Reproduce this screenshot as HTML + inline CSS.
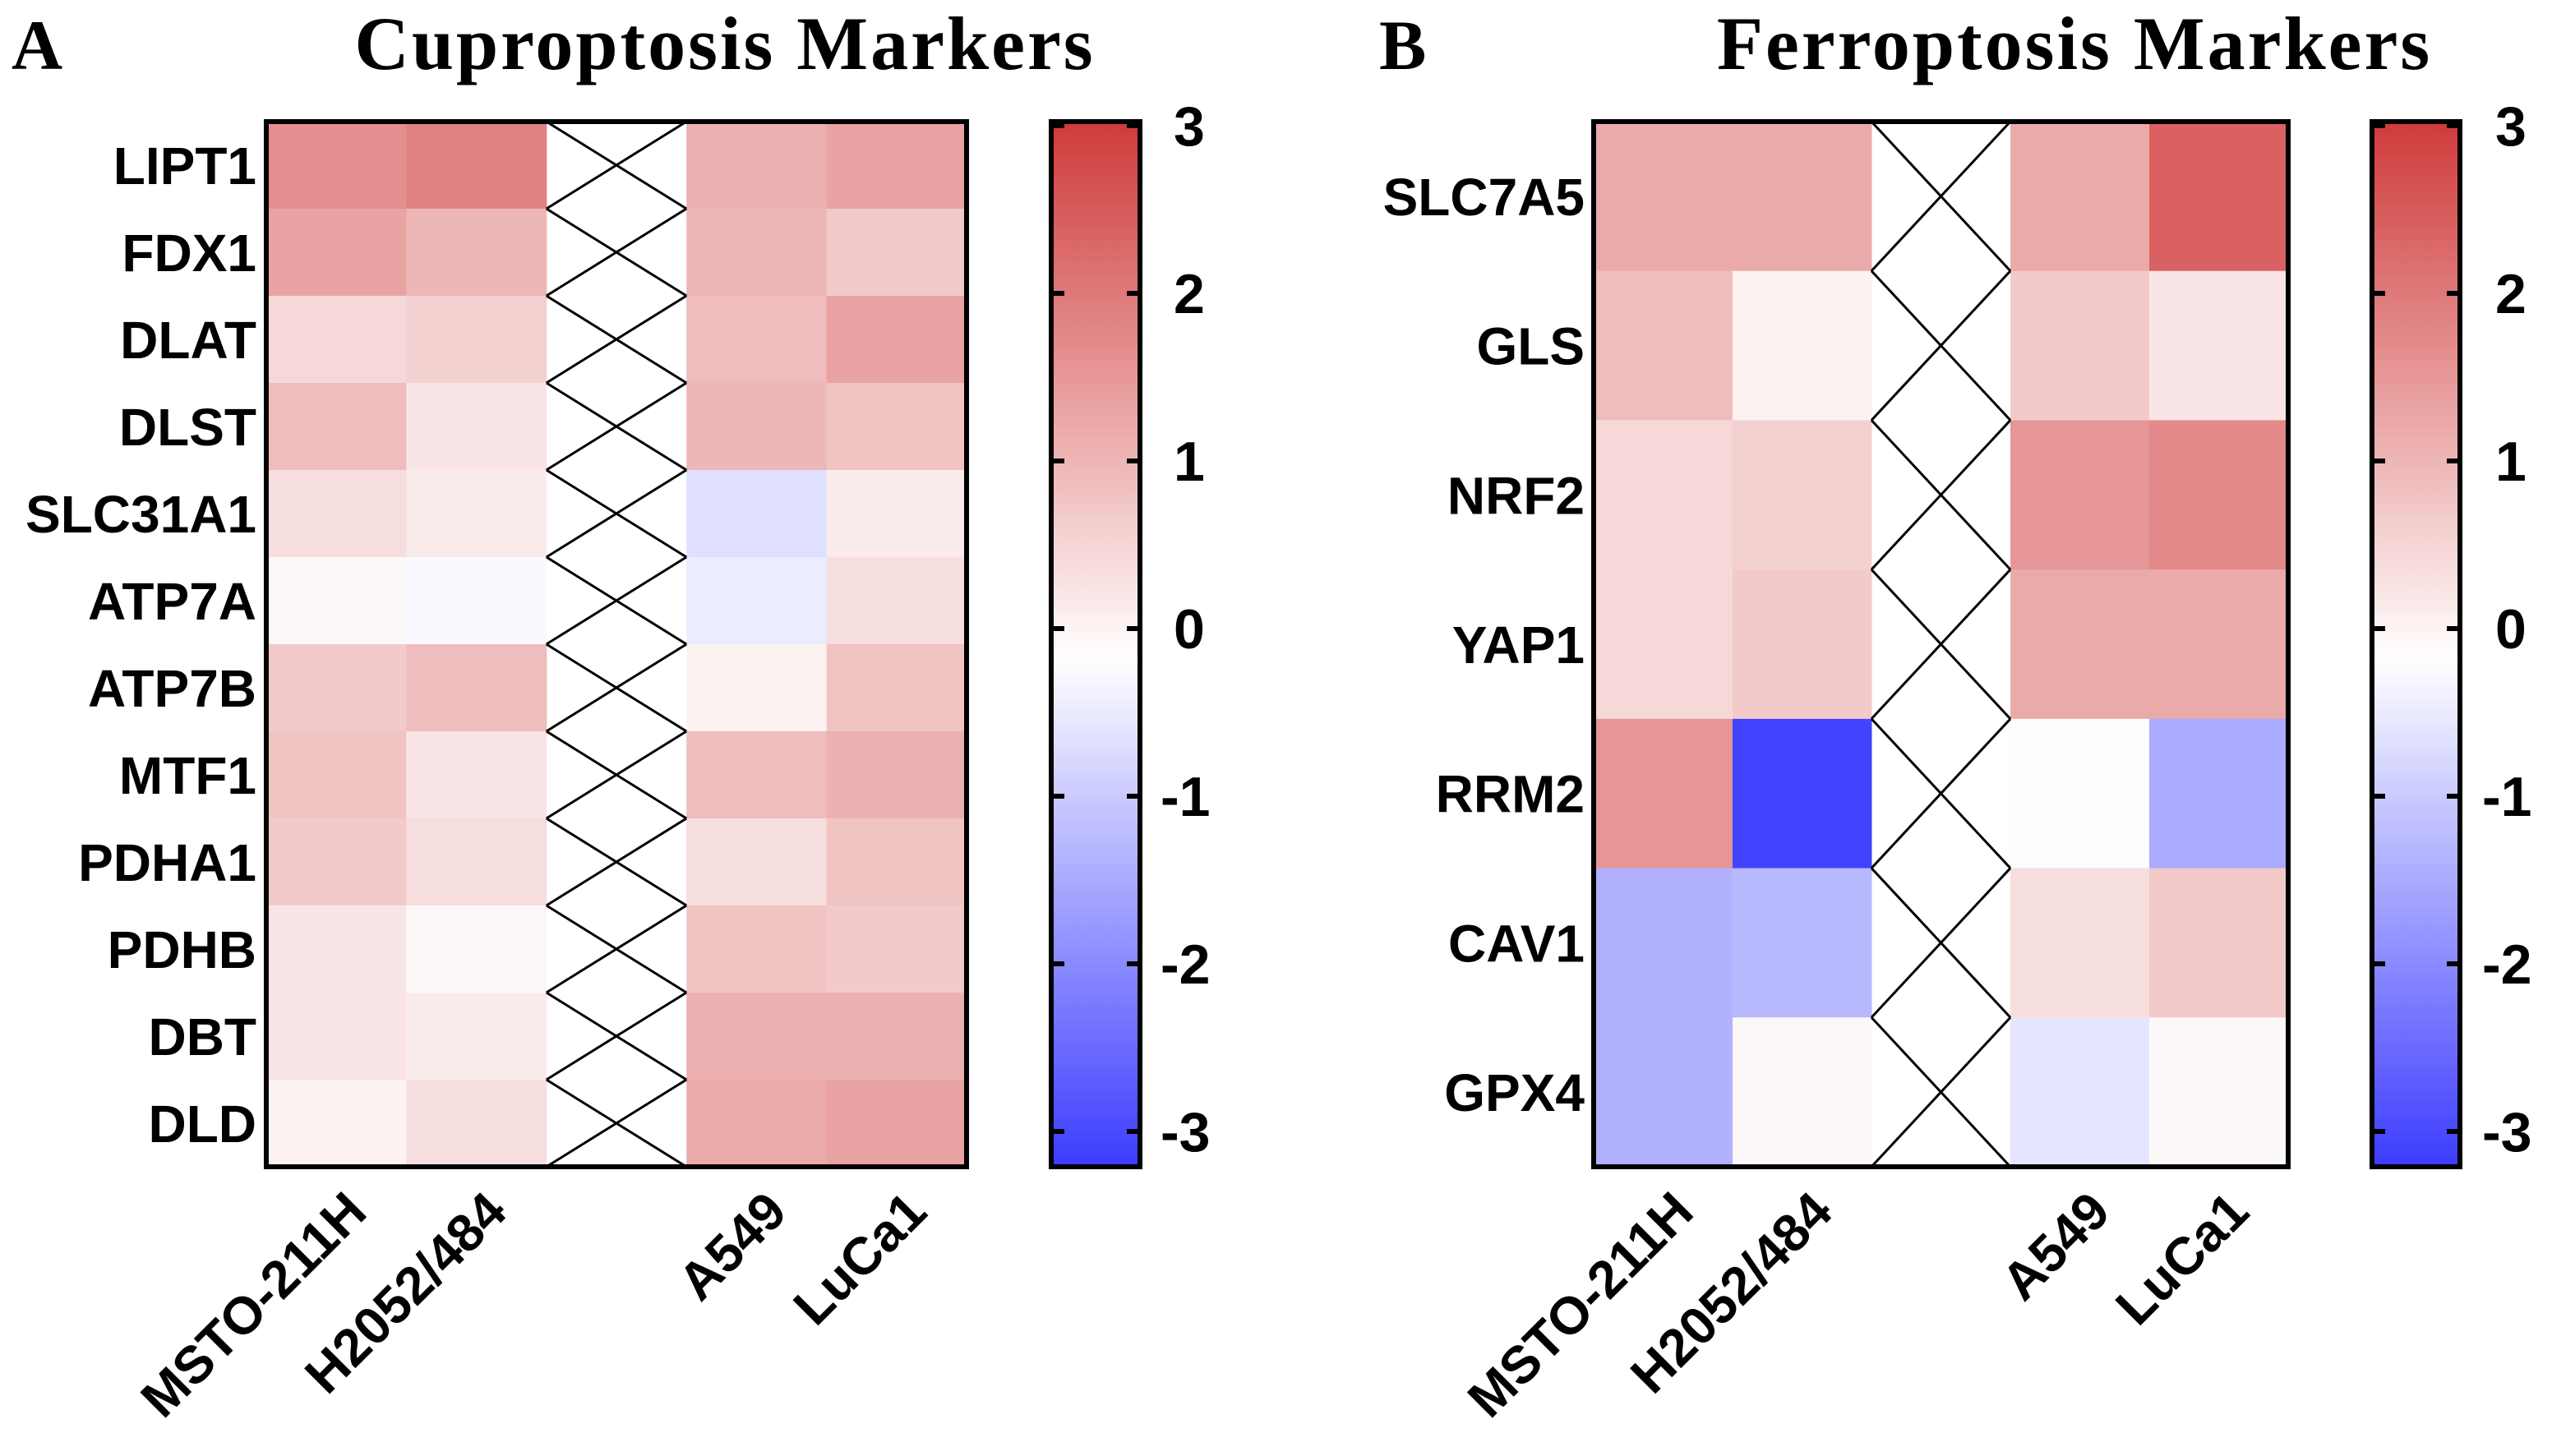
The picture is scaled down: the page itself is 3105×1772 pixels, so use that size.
<!DOCTYPE html>
<html><head><meta charset="utf-8"><style>
html,body{margin:0;padding:0;background:#fff;}
svg{display:block;}
</style></head><body>
<svg id="fig" xmlns="http://www.w3.org/2000/svg" width="3105" height="1772" viewBox="0 0 3105 1772">
<defs>
<linearGradient id="cbar" x1="0" y1="1" x2="0" y2="0">
<stop offset="0" stop-color="#3c3cff"/>
<stop offset="0.485" stop-color="#ffffff"/>
<stop offset="1" stop-color="#d03a3a"/>
</linearGradient>
</defs>
<g id="panelA"></g>
<g id="panelB"></g>
</svg>
<script>
const cellLines = ["MSTO-211H","H2052/484","","A549","LuCa1"];
const cuproGenes = ["LIPT1","FDX1","DLAT","DLST","SLC31A1","ATP7A","ATP7B","MTF1","PDHA1","PDHB","DBT","DLD"];
const cuproMSTO  = [1.7,1.4,0.6,1.0,0.5,0.1,0.8,0.9,0.8,0.4,0.4,0.2];
const cuproH2052 = [1.9,1.1,0.7,0.4,0.3,-0.1,1.0,0.4,0.5,0.1,0.3,0.5];
const cuproA549  = [1.2,1.1,1.0,1.1,-0.5,-0.3,0.2,1.0,0.5,0.9,1.2,1.3];
const cuproLuCa1 = [1.4,0.8,1.4,0.9,0.3,0.5,0.9,1.2,0.9,0.8,1.2,1.4];
const ferroGenes = ["SLC7A5","GLS","NRF2","YAP1","RRM2","CAV1","GPX4"];
const ferroMSTO  = [1.3,1.0,0.6,0.6,1.6,-1.2,-1.2];
const ferroH2052 = [1.3,0.2,0.7,0.8,-2.9,-1.1,0.1];
const ferroA549  = [1.3,0.8,1.6,1.3,0.05,0.5,-0.4];
const ferroLuCa1 = [2.4,0.4,1.8,1.3,-1.3,0.8,0.1];
const scaleTicks = [3,2,1,0,-1,-2,-3];

const NS="http://www.w3.org/2000/svg";
function mk(parent,tag,attrs){const e=document.createElementNS(NS,tag);for(const k in attrs)e.setAttribute(k,attrs[k]);parent.appendChild(e);return e;}
function color(v){
  v=Math.max(-3,Math.min(3,v));
  const t=Math.abs(v)/3;
  const end = v>=0?[208,58,58]:[60,60,255];
  const c=end.map(x=>Math.round(255+(x-255)*t));
  return `rgb(${c[0]},${c[1]},${c[2]})`;
}
function panel(g,cfg){
  const {x0,x1,y0,y1,genes,series,title,titleX,letter,letterX,labelRight,cbX0,cbX1,tickLabelX,colEndDx}=cfg;
  const nR=genes.length, nC=5;
  const cw=(x1-x0)/nC, rh=(y1-y0)/nR;
  const yPos=i=>y0+i*rh, xPos=j=>x0+j*cw;
  let t=mk(g,'text',{x:letterX,y:84,'font-family':'"Liberation Serif",serif','font-weight':'bold','font-size':86,fill:'#000'});
  t.textContent=letter;
  
  
  t=mk(g,'text',{x:titleX,y:84,'font-family':'"Liberation Serif",serif','font-weight':'bold','font-size':92,'letter-spacing':3,fill:'#000','text-anchor':'middle'});
  t.textContent=title;
  
  
  const colMap=[0,1,3,4];
  series.forEach((vals,si)=>{
    vals.forEach((v,i)=>{
      const r=mk(g,'rect',{x:xPos(colMap[si]),y:yPos(i),width:cw+0.5,height:rh+0.5,fill:color(v)});
      
      
    });
  });
  genes.forEach((gn,i)=>{
    const a=xPos(2), b=xPos(3), c=yPos(i), d=yPos(i+1);
    const p=mk(g,'path',{d:`M${a},${c}L${b},${d}M${b},${c}L${a},${d}`,stroke:'#000','stroke-width':3,fill:'none'});
    
    
    const l=mk(g,'text',{x:labelRight,y:yPos(i)+rh/2+23,'font-family':'"Liberation Sans",sans-serif','font-weight':'bold','font-size':64,'text-anchor':'end',fill:'#000'});
    l.textContent=gn;
    
    
  });
  const fr=mk(g,'rect',{x:x0,y:y0,width:x1-x0,height:y1-y0,fill:'none',stroke:'#000','stroke-width':6});
  
  
  cellLines.forEach((cl,j)=>{
    if(!cl)return;
    const cx=xPos(j)+cw/2+colEndDx, cy=1478;
    const l=mk(g,'text',{x:cx,y:cy,'font-family':'"Liberation Sans",sans-serif','font-weight':'bold','font-size':64,'text-anchor':'end',fill:'#000',transform:`rotate(-45 ${cx} ${cy})`});
    l.textContent=cl;
    
    
  });
  const cb=mk(g,'rect',{x:cbX0,y:y0,width:cbX1-cbX0,height:y1-y0,fill:'url(#cbar)',stroke:'#000','stroke-width':6});
  
  
  const cy0=765, unit=204;
  scaleTicks.forEach(v=>{
    const y=cy0-v*unit;
    const tk=mk(g,'path',{d:`M${cbX0},${y}H${cbX0+16}M${cbX1-16},${y}H${cbX1}`,stroke:'#000','stroke-width':6});
    
    
    const tl=mk(g,'text',{x:tickLabelX+(v<0?-8:8),y:y+24,'font-family':'"Liberation Sans",sans-serif','font-weight':'bold','font-size':68,fill:'#000'});
    tl.textContent=v<0?'-'+Math.abs(v):String(v);
    
    
  });
}
panel(document.getElementById('panelA'),{x0:324,x1:1176,y0:148,y1:1420,genes:cuproGenes,
  series:[cuproMSTO,cuproH2052,cuproA549,cuproLuCa1],title:'Cuproptosis Markers',titleX:882,letter:'A',letterX:14,
  labelRight:312,cbX0:1279,cbX1:1387,tickLabelX:1420,colEndDx:40});
panel(document.getElementById('panelB'),{x0:1939,x1:2784,y0:148,y1:1420,genes:ferroGenes,
  series:[ferroMSTO,ferroH2052,ferroA549,ferroLuCa1],title:'Ferroptosis Markers',titleX:2524,letter:'B',letterX:1678,
  labelRight:1928,cbX0:2886,cbX1:2993,tickLabelX:3028,colEndDx:40});
</script>
</body></html>
